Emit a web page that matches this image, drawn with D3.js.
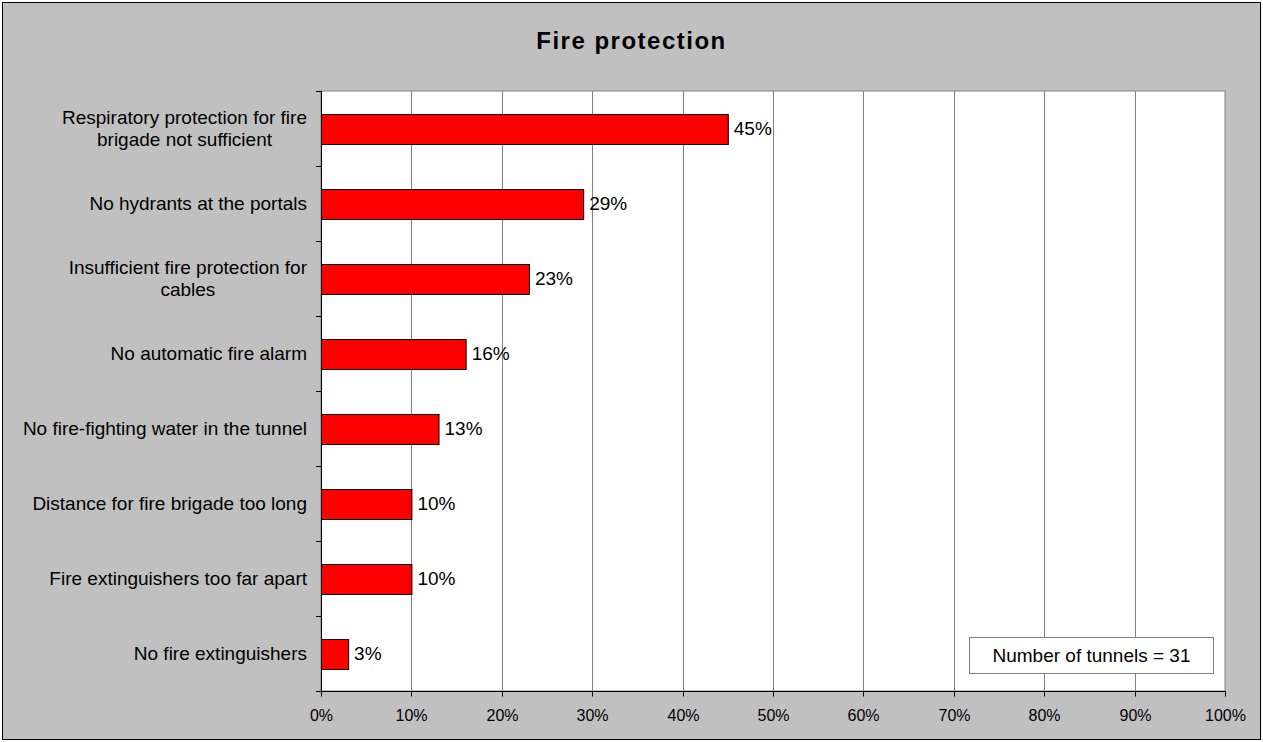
<!DOCTYPE html>
<html>
<head>
<meta charset="utf-8">
<script src="https://cdn.jsdelivr.net/npm/d3@7"></script>
<style>
  html, body { margin: 0; padding: 0; background: #fff; }
  svg { display: block; font-family: "Liberation Sans", Arial, sans-serif; }
</style>
</head>
<body>
<svg id="chart" width="1263" height="742"></svg>
<script>
// Categories (top to bottom) and share of tunnels with each deficiency
const categories = [
  ["Respiratory protection for fire", "brigade not sufficient"],
  ["No hydrants at the portals"],
  ["Insufficient fire protection for", "cables"],
  ["No automatic fire alarm"],
  ["No fire-fighting water in the tunnel"],
  ["Distance for fire brigade too long"],
  ["Fire extinguishers too far apart"],
  ["No fire extinguishers"]
];
const values = [45, 29, 23, 16, 13, 10, 10, 3];
const xTicks = [0, 10, 20, 30, 40, 50, 60, 70, 80, 90, 100];
const chartTitle = "Fire protection";
const noteText = "Number of tunnels = 31";

const W = 1263, H = 742;
const plot = { left: 321, top: 91, right: 1225, bottom: 691 };

const svg = d3.select("#chart");

// chart background and frame
svg.append("rect").attr("x", 0).attr("y", 0).attr("width", W).attr("height", H).attr("fill", "#fff");
svg.append("rect").attr("x", 2.5).attr("y", 2.5).attr("width", W - 5).attr("height", H - 5)
  .attr("fill", "#C0C0C0").attr("stroke", "#000").attr("stroke-width", 1);

// plot area
svg.append("rect")
  .attr("x", plot.left).attr("y", plot.top)
  .attr("width", plot.right - plot.left).attr("height", plot.bottom - plot.top)
  .attr("fill", "#fff").attr("stroke", "#808080").attr("stroke-width", 1);

const x = d3.scaleLinear().domain([0, 100]).range([plot.left, plot.right]);
const idx = d3.range(categories.length);
const y = d3.scaleBand().domain(idx).range([plot.top, plot.bottom]).paddingInner(0.6).paddingOuter(0.3);
const yBand = d3.scaleBand().domain(idx).range([plot.top, plot.bottom]);

// vertical gridlines
svg.append("g").selectAll("line").data(xTicks.slice(1, -1)).join("line")
  .attr("x1", d => Math.round(x(d)) + 0.5).attr("x2", d => Math.round(x(d)) + 0.5)
  .attr("y1", plot.top).attr("y2", plot.bottom)
  .attr("stroke", "#808080").attr("stroke-width", 1);

// bars
svg.append("g").selectAll("rect").data(values).join("rect")
  .attr("x", x(0) + 0.5)
  .attr("y", (d, i) => Math.round(y(i)) + 0.5)
  .attr("width", d => x(d) - x(0))
  .attr("height", Math.round(y.bandwidth()))
  .attr("fill", "#FF0000").attr("stroke", "#000").attr("stroke-width", 1);

// value labels
svg.append("g").selectAll("text").data(values).join("text")
  .attr("x", d => x(d) + 6)
  .attr("y", (d, i) => y(i) + y.bandwidth() / 2)
  .attr("dy", "0.36em")
  .attr("font-size", 19).attr("fill", "#000")
  .text(d => d + "%");

// x axis
const xAxis = d3.axisBottom(x).tickValues(xTicks).tickFormat(d => d + "%").tickSize(5).tickPadding(13);
const gx = svg.append("g").attr("transform", `translate(0.5,${plot.bottom + 0.5})`).call(xAxis);
gx.select(".domain").attr("stroke", "#000").attr("d", `M${plot.left},0H${plot.right}`);
gx.selectAll(".tick line").attr("stroke", "#000");
gx.selectAll(".tick text").attr("font-size", 16).attr("fill", "#000")
  .attr("font-family", "'Liberation Sans', Arial, sans-serif");
gx.selectAll(".tick").attr("transform", d => `translate(${Math.round(x(d))},0)`);

// y axis line and ticks at category boundaries
const gy = svg.append("g");
gy.append("line").attr("x1", plot.left + 0.5).attr("x2", plot.left + 0.5)
  .attr("y1", plot.top).attr("y2", plot.bottom + 1).attr("stroke", "#000");
gy.selectAll("line.tk").data(d3.range(categories.length + 1)).join("line").attr("class", "tk")
  .attr("x1", plot.left - 5).attr("x2", plot.left)
  .attr("y1", i => Math.round(plot.top + i * yBand.bandwidth()) + 0.5)
  .attr("y2", i => Math.round(plot.top + i * yBand.bandwidth()) + 0.5)
  .attr("stroke", "#000");

// category labels: block right-aligned, lines centred within block
const labelRight = 307, lineH = 22;
const lab = svg.append("g").attr("font-size", 19).attr("fill", "#000");
categories.forEach((lines, i) => {
  const cy = y(i) + y.bandwidth() / 2;
  const g = lab.append("g");
  const texts = lines.map((t, k) => g.append("text")
    .attr("y", cy + (k - (lines.length - 1) / 2) * lineH)
    .attr("dy", "0.36em").attr("text-anchor", "middle").text(t));
  const maxW = d3.max(texts, t => t.node().getComputedTextLength());
  texts.forEach(t => t.attr("x", labelRight - maxW / 2));
});

// title
svg.append("text").attr("x", W / 2).attr("y", 49)
  .attr("text-anchor", "middle").attr("font-size", 24).attr("font-weight", "bold")
  .attr("letter-spacing", 1.5)
  .text(chartTitle);

// note box
svg.append("rect").attr("x", 969.5).attr("y", 637.5).attr("width", 244).attr("height", 36)
  .attr("fill", "#fff").attr("stroke", "#808080");
svg.append("text").attr("x", 969.5 + 122).attr("y", 655.5).attr("dy", "0.36em")
  .attr("text-anchor", "middle").attr("font-size", 19).text(noteText);
</script>
</body>
</html>
